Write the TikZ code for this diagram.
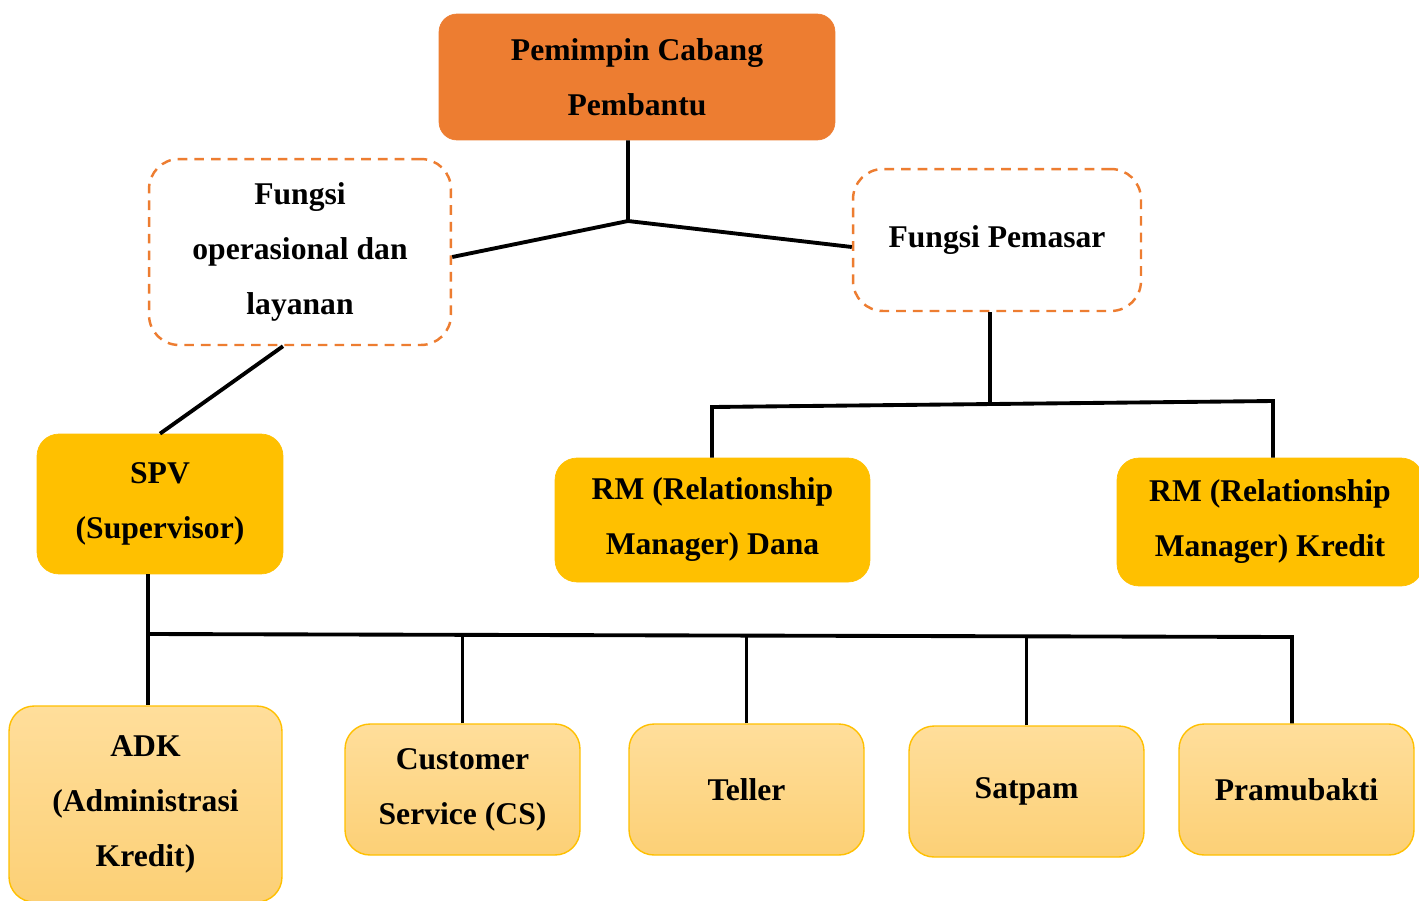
\documentclass[tikz,border=0pt]{standalone}
\usepackage{fontspec}
\setmainfont{Liberation Serif}
\definecolor{orgfill}{HTML}{ED7D31}
\definecolor{ylwfill}{HTML}{FFC000}
\definecolor{lighttop}{RGB}{255,222,155}
\definecolor{lightbot}{RGB}{252,208,118}
\begin{document}
\begin{tikzpicture}[x=0.02cm,y=-0.02cm,
  txt/.style={font=\fontsize{18}{31.3}\selectfont\bfseries, align=center, text=black, inner sep=0pt},
  headbox/.style={txt, fill=orgfill, draw=orgfill, rounded corners=0.36cm},
  funcbox/.style={txt, draw=orgfill, line width=1.4pt, dash pattern=on 5.5pt off 4pt, rounded corners=0.6cm, fill=white},
  ybox/.style={txt, fill=ylwfill, draw=ylwfill, rounded corners=0.44cm},
  lbox/.style={txt, top color=lighttop, bottom color=lightbot, draw=ylwfill, line width=0.8pt, rounded corners=0.5cm},
  conn/.style={black, line width=2.2pt}]
\fill[white] (0,0) rectangle (1419,900);
\useasboundingbox (0,0) rectangle (1419,900);

\node[headbox, minimum width=7.92cm, minimum height=2.52cm] (P) at (637,77) {Pemimpin Cabang\\Pembantu};
\node[funcbox, minimum width=6.04cm, minimum height=3.72cm] (op) at (300,252) {Fungsi\\operasional dan\\layanan};
\node[funcbox, minimum width=5.76cm, minimum height=2.84cm] (pem) at (997,240) {Fungsi Pemasar};

\node[ybox, minimum width=4.92cm, minimum height=2.8cm] (spv) at (160,504) {SPV\\(Supervisor)};
\node[ybox, minimum width=6.3cm, minimum height=2.48cm] (rmd) at (712.5,520) {RM (Relationship\\Manager) Dana};
\node[ybox, minimum width=6.12cm, minimum height=2.56cm] (rmk) at (1270,522) {RM (Relationship\\Manager) Kredit};

\node[lbox, minimum width=5.46cm, minimum height=3.92cm] (adk) at (145.5,804) {ADK\\(Administrasi\\Kredit)};
\node[lbox, minimum width=4.7cm, minimum height=2.62cm] (cs) at (462.5,789.5) {Customer\\Service (CS)};
\node[lbox, minimum width=4.7cm, minimum height=2.62cm] (tel) at (746.5,789.5) {Teller};
\node[lbox, minimum width=4.7cm, minimum height=2.62cm] (sat) at (1026.5,791.5) {Satpam};
\node[lbox, minimum width=4.7cm, minimum height=2.62cm] (pra) at (1296.5,789.5) {Pramubakti};

\coordinate (j1) at (628,221);
\coordinate (j2) at (990,404);
\coordinate (j3) at (712,407);
\coordinate (j4) at (1273,401);
\coordinate (k0) at (148,634);
\coordinate (k5) at (1292,637);

\draw[conn] (j1 |- P.south) -- (j1) -- ([yshift=-0.1cm]op.east);
\draw[conn] (j1) -- ([yshift=-0.14cm]pem.west);
\draw[conn] ([xshift=-0.34cm]op.south) -- (spv.north);
\draw[conn] (j2 |- pem.south) -- (j2);
\draw[conn] (j3 |- rmd.north) -- (j3) -- (j4) -- (j4 |- rmk.north);
\draw[conn] (k0 |- spv.south) -- (k0 |- adk.north);
\draw[conn] (k0) -- (k5) -- (k5 |- pra.north);
\draw[conn] (cs.north) -- (cs.north |- k0);
\draw[conn] (tel.north) -- (tel.north |- k0);
\draw[conn] (sat.north) -- (sat.north |- k5);
\end{tikzpicture}
\end{document}
